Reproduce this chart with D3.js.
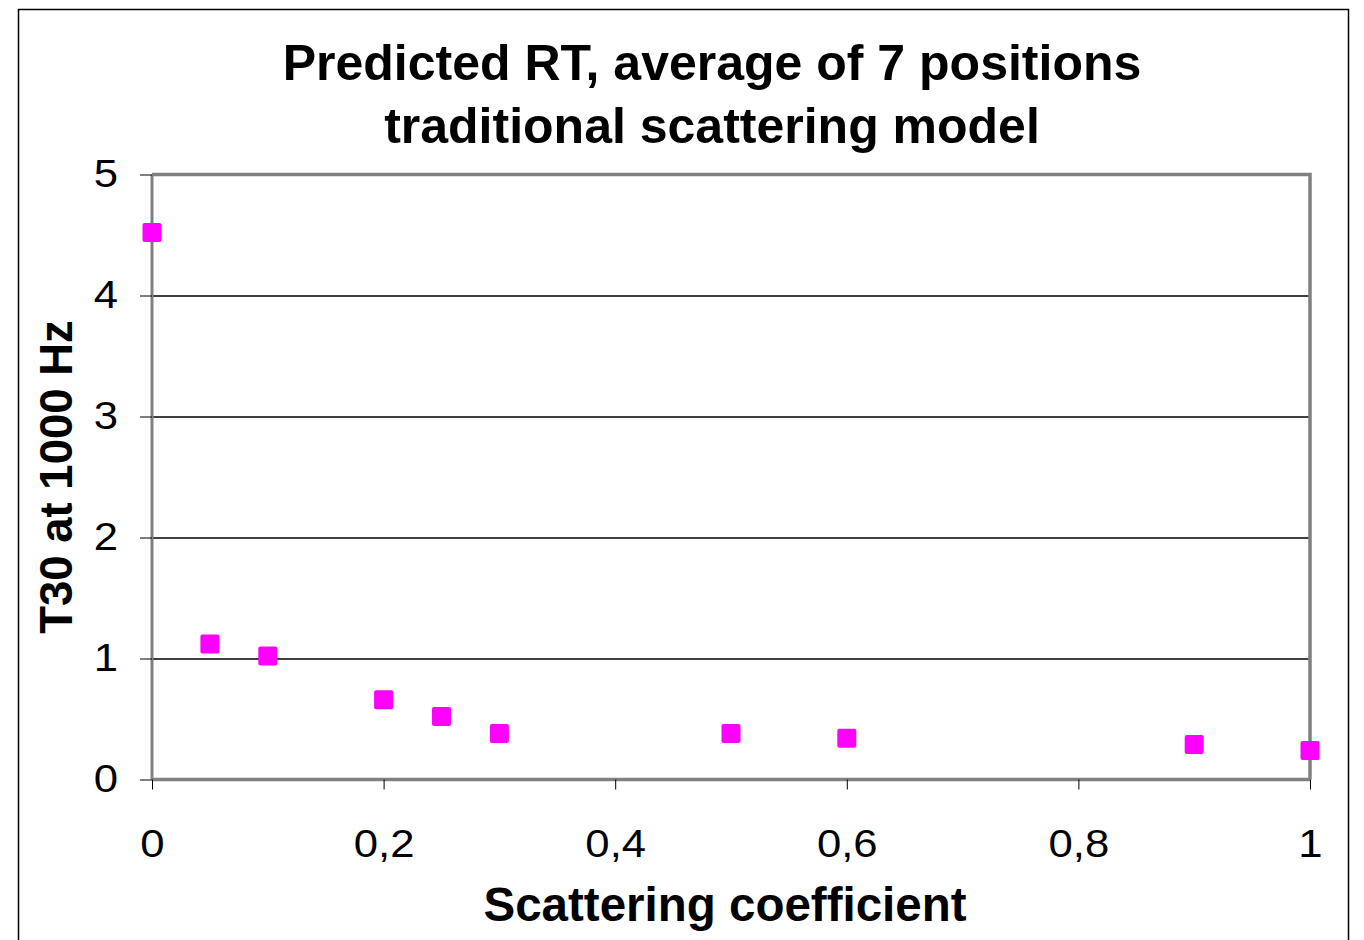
<!DOCTYPE html>
<html>
<head>
<meta charset="utf-8">
<script src="https://cdn.jsdelivr.net/npm/d3@7"></script>
<style>
  body { margin: 0; background: #fff; }
  text { font-family: Arial, "Liberation Sans", sans-serif; }
</style>
</head>
<body>
<svg id="chart" width="1364" height="940"></svg>
<script>
(function(){
    // data
    let scattering = [0, 0.05, 0.1, 0.2, 0.25, 0.3, 0.5, 0.6, 0.9, 1.0]
    let t30 = [4.52, 1.12, 1.02, 0.66, 0.52, 0.38, 0.38, 0.34, 0.29, 0.24]
    let xTicks = [0, 0.2, 0.4, 0.6, 0.8, 1]
    let yTicks = [0, 1, 2, 3, 4, 5]
    let titleLines = ["Predicted RT, average of 7 positions", "traditional scattering model"]

    let data = scattering.map((s, i) => ({x: s, y: t30[i]}))

    let margin = {top: 174.5, left: 152, right: 54, bottom: 160.5}
    let width = 1364 - margin.left - margin.right
    let height = 940 - margin.top - margin.bottom

    let root = d3.select("svg#chart")

    // outer chart frame
    root.append("rect")
        .attr("x", 18.5).attr("y", 9.5)
        .attr("width", 1330).attr("height", 960)
        .attr("fill", "none")
        .attr("stroke", "#000")
        .attr("stroke-width", 1.5)

    let svg = root.append("g")
        .attr("transform", "translate(" + margin.left + "," + margin.top + ")")

    let xScale = d3.scaleLinear()
        .domain([0, 1])
        .range([0, width])

    let yScale = d3.scaleLinear()
        .domain([0, 5])
        .range([height, 0])

    // gridlines
    svg.append("g")
        .selectAll("line")
        .data(yTicks.slice(1, -1))
        .enter()
        .append("line")
            .attr("x1", 0).attr("x2", width)
            .attr("y1", (d) => Math.round(yScale(d)) + 0.5)
            .attr("y2", (d) => Math.round(yScale(d)) + 0.5)
            .attr("stroke", "#000")
            .attr("stroke-width", 1.3)

    // plot area frame
    svg.append("path")
        .attr("d", "M0,0H" + width + "V" + height)
        .attr("fill", "none")
        .attr("stroke", "#808080")
        .attr("stroke-width", 3.5)
    svg.append("line")
        .attr("x1", 0).attr("x2", width)
        .attr("y1", height).attr("y2", height)
        .attr("stroke", "#808080")
        .attr("stroke-width", 3.5)
    svg.append("line")
        .attr("x1", 0).attr("x2", 0)
        .attr("y1", 0).attr("y2", height)
        .attr("stroke", "#808080")
        .attr("stroke-width", 3)

    // axes
    let yAxis = svg.append("g")
        .call(d3.axisLeft(yScale)
            .tickValues(yTicks)
            .tickSize(12)
            .tickPadding(20)
            .tickFormat(d3.format("d")))
    yAxis.select(".domain").remove()
    yAxis.selectAll("text")
        .attr("x", 0)
        .attr("transform", "translate(-34,0) scale(1.15,1)")
        .attr("font-size", "38px")
        .attr("fill", "#000")
        .attr("font-family", "Arial, 'Liberation Sans', sans-serif")

    let xAxis = svg.append("g")
        .attr("transform", "translate(0," + height + ")")
        .call(d3.axisBottom(xScale)
            .tickValues(xTicks)
            .tickSize(10)
            .tickPadding(38)
            .tickFormat((d) => String(d).replace(".", ",")))
    xAxis.select(".domain").remove()
    xAxis.selectAll("text")
        .attr("y", 0)
        .attr("dy", "0")
        .attr("transform", "translate(0,77) scale(1.15,1)")
        .attr("font-size", "38px")
        .attr("fill", "#000")
        .attr("font-family", "Arial, 'Liberation Sans', sans-serif")

    // markers
    let size = 19
    svg.selectAll("rect.pt")
        .data(data)
        .enter()
        .append("rect")
            .attr("class", "pt")
            .attr("x", (d) => xScale(d.x) - size / 2)
            .attr("y", (d) => yScale(d.y) - size / 2)
            .attr("width", size)
            .attr("height", size)
            .attr("rx", 2)
            .attr("fill", "#ff00ff")

    // title
    root.append("g")
        .selectAll("text")
        .data(titleLines)
        .enter()
        .append("text")
            .attr("x", 712)
            .attr("y", (d, i) => 80 + i * 63)
            .attr("text-anchor", "middle")
            .attr("font-size", "50px")
            .attr("font-weight", "bold")
            .text((d) => d)

    // axis labels
    root.append("text")
        .attr("transform", "translate(72,477) rotate(-90)")
        .attr("text-anchor", "middle")
        .attr("font-size", "45.5px")
        .attr("font-weight", "bold")
        .text("T30 at 1000 Hz")

    root.append("text")
        .attr("x", 725)
        .attr("y", 921)
        .attr("text-anchor", "middle")
        .attr("font-size", "47.5px")
        .attr("font-weight", "bold")
        .text("Scattering coefficient")
})()
</script>
</body>
</html>
